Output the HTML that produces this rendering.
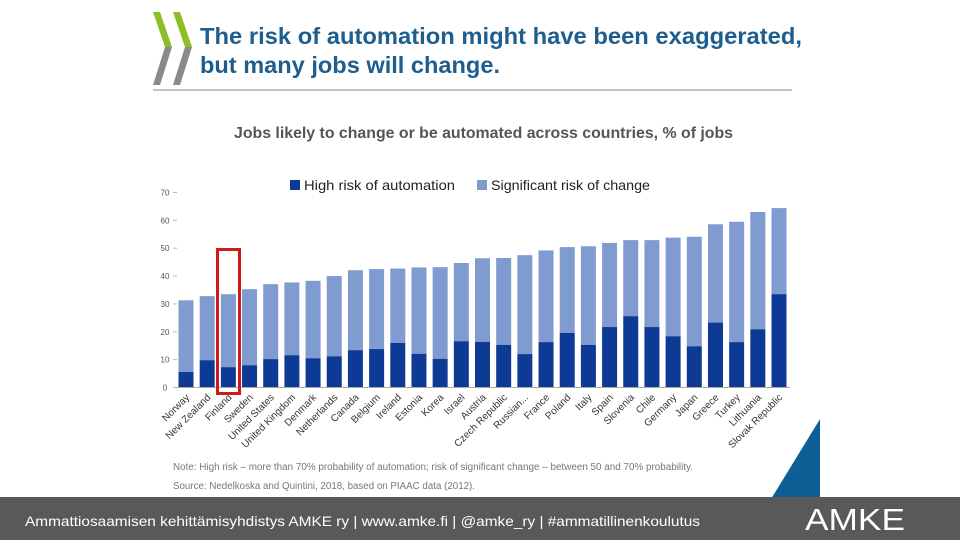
<!DOCTYPE html>
<html><head><meta charset="utf-8"><style>
body{margin:0;width:960px;height:540px;overflow:hidden;background:#fff;font-family:"Liberation Sans",sans-serif}
svg{display:block}
</style></head><body>
<svg width="960" height="540" viewBox="0 0 960 540">
<g>
<polygon points="153,12 160,12 172,47 165,47" fill="#8cbf26"/>
<polygon points="165,47 172,47 160,85 153,85" fill="#8a8a8a"/>
<polygon points="173,12 180,12 192,47 185,47" fill="#8cbf26"/>
<polygon points="185,47 192,47 180,85 173,85" fill="#8a8a8a"/>
</g>
<text x="200" y="44" font-size="23" font-weight="bold" fill="#1d5e8e" textLength="602" lengthAdjust="spacingAndGlyphs">The risk of automation might have been exaggerated,</text>
<text x="200" y="73" font-size="23" font-weight="bold" fill="#1d5e8e" textLength="300" lengthAdjust="spacingAndGlyphs">but many jobs will change.</text>
<line x1="153" y1="90" x2="792" y2="90" stroke="#888" stroke-width="1"/>
<text x="234" y="138" font-size="15.5" font-weight="bold" fill="#555" textLength="499" lengthAdjust="spacingAndGlyphs">Jobs likely to change or be automated across countries, % of jobs</text>
<g>
<rect x="290" y="180" width="10" height="10" fill="#0d3a94"/>
<text x="304" y="190" font-size="14" fill="#222" textLength="151" lengthAdjust="spacingAndGlyphs">High risk of automation</text>
<rect x="477" y="180" width="10" height="10" fill="#7f9bcf"/>
<text x="491" y="190" font-size="14" fill="#222" textLength="159" lengthAdjust="spacingAndGlyphs">Significant risk of change</text>
</g>
<g id="chart"></g>
<text x="173" y="470" font-size="10" fill="#777" textLength="520" lengthAdjust="spacingAndGlyphs">Note: High risk – more than 70% probability of automation; risk of significant change – between 50 and 70% probability.</text>
<text x="173" y="489" font-size="10" fill="#777" textLength="302" lengthAdjust="spacingAndGlyphs">Source: Nedelkoska and Quintini, 2018, based on PIAAC data (2012).</text>
<polygon points="771,499 820,419 820,499" fill="#0f5f97"/>
<rect x="0" y="497" width="960" height="43" fill="#595959"/>
<text x="25" y="526" font-size="14" fill="#fff" textLength="675" lengthAdjust="spacingAndGlyphs">Ammattiosaamisen kehittämisyhdistys AMKE ry  | www.amke.fi  | @amke_ry  |  #ammatillinenkoulutus</text>
<text x="805" y="530" font-size="31" fill="#fff" textLength="100" lengthAdjust="spacingAndGlyphs">AMKE</text>
</svg>
<script>
const countries=["Norway","New Zealand","Finland","Sweden","United States","United Kingdom","Denmark","Netherlands","Canada","Belgium","Ireland","Estonia","Korea","Israel","Austria","Czech Republic","Russian...","France","Poland","Italy","Spain","Slovenia","Chile","Germany","Japan","Greece","Turkey","Lithuania","Slovak Republic"];
const highRisk=[5.6,9.8,7.3,8.0,10.2,11.6,10.5,11.2,13.4,13.8,16,12.1,10.3,16.6,16.4,15.3,12,16.3,19.6,15.3,21.7,25.6,21.7,18.4,14.8,23.3,16.3,20.9,33.5];
const totalRisk=[31.3,32.8,33.5,35.3,37.1,37.7,38.3,40,42.1,42.5,42.7,43.1,43.2,44.7,46.4,46.5,47.5,49.2,50.4,50.7,51.9,52.9,52.9,53.8,54.1,58.6,59.5,63,64.4];
const yTicks=[0,10,20,30,40,50,60,70];
const NS="http://www.w3.org/2000/svg";
const g=document.getElementById('chart');
const y0=387.5,yPer=195/70,x0=186,step=(779-186)/28,bw=15;
const yS=v=>y0-v*yPer, xS=i=>x0+i*step;
function mk(t,a){const e=document.createElementNS(NS,t);for(const k in a)e.setAttribute(k,a[k]);g.appendChild(e);return e;}
yTicks.forEach(t=>{
const e=mk('text',{x:165,y:yS(t)+3,'font-size':8,fill:'#555','text-anchor':'middle'});e.textContent=t;


const l=mk('line',{x1:173,x2:177,y1:yS(t),y2:yS(t),stroke:'#bbb'});


});
countries.forEach((c,i)=>{
const x=xS(i)-bw/2;
const r1=mk('rect',{x:x,y:yS(totalRisk[i]),width:bw,height:(totalRisk[i]-highRisk[i])*yPer,fill:'#7f9bcf'});


const r2=mk('rect',{x:x,y:yS(highRisk[i]),width:bw,height:highRisk[i]*yPer,fill:'#0d3a94'});


const t=mk('text',{x:xS(i)+4,y:398,'font-size':10,fill:'#333','text-anchor':'end',transform:`rotate(-45 ${xS(i)+4} 398)`});
t.textContent=c;


});
const ax=mk('line',{x1:175,x2:790,y1:y0,y2:y0,stroke:'#aaa'});


const hl=mk('rect',{x:217.5,y:249.5,width:22,height:144,fill:'none',stroke:'#d01a1a','stroke-width':3});


</script>
</body></html>
